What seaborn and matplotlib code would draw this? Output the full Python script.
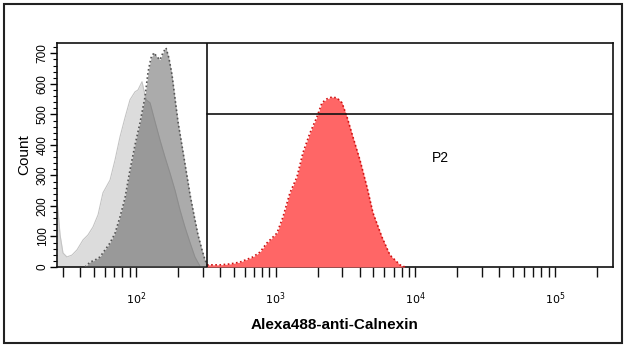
import numpy as np
import matplotlib
matplotlib.use("Agg")
import matplotlib.pyplot as plt
import seaborn as sns
from matplotlib.ticker import LogLocator, MultipleLocator, NullFormatter, FixedLocator
from matplotlib.patches import Rectangle

# control (light gray) histogram
ctrl_x = [27.2, 28.6, 30.0, 32.0, 34.8, 37.8, 41.8, 45.3, 49.2, 53.5, 58.0, 65.2, 70.8,
          76.8, 83.4, 90.6, 98.4, 103.3, 110.4, 118, 126, 137, 148.5, 161, 175, 190,
          206.5, 224, 244, 264, 287]
ctrl_y = [220, 105, 46, 33, 39, 56, 89, 105, 131, 171, 243, 285, 351,
          426, 489, 548, 574, 580, 607, 548, 538, 475, 416, 361, 308, 252,
          187, 131, 79, 33, 3]

# isotype (dark gray) histogram
iso_x = [43.2, 46.9, 50.9, 55.2, 60.0, 65.2, 70.8, 76.8, 83.4, 90.6, 98.4, 106.8, 116,
         122, 128, 134.5, 141, 148.5, 156, 164, 172, 181, 190, 200, 213, 228, 244,
         260, 278, 297, 312, 327]
iso_y = [0, 16, 23, 33, 56, 79, 111, 164, 226, 318, 400, 472, 557,
         639, 685, 702, 689, 679, 702, 718, 685, 630, 554, 475, 400, 318, 236,
         171, 105, 56, 23, 3]

# Alexa488-anti-Calnexin (red) histogram
cal_x = [322, 399, 471, 555, 688, 772, 866, 1021, 1128, 1265, 1420, 1567, 1759, 1976,
         2144, 2328, 2528, 2747, 2984, 3239, 3574, 4010, 4505, 4975, 5769, 6580, 7762, 8430]
cal_y = [7, 7, 10, 16, 33, 49, 79, 111, 164, 243, 295, 374, 439, 492,
         538, 551, 557, 554, 538, 492, 426, 351, 262, 177, 98, 39, 7, 0]

gate_x = 322
gate_y = 500

sns.set_style("ticks")
plt.rcParams['font.family'] = ['Liberation Sans', 'DejaVu Sans']
plt.rcParams['text.color'] = 'black'
plt.rcParams['axes.labelcolor'] = 'black'
plt.rcParams['xtick.color'] = 'black'
plt.rcParams['ytick.color'] = 'black'

fig = plt.figure(figsize=(6.28, 3.51), dpi=100)
ax = fig.add_axes([0.0908, 0.2393, 0.9761 - 0.0908, 0.8775 - 0.2393])

ax.fill_between(ctrl_x, ctrl_y, 0, color='#dcdcdc', lw=0, zorder=1)
sns.lineplot(x=ctrl_x, y=ctrl_y, ax=ax, color='#c4c4c4', lw=0.8, zorder=2)
ax.fill_between(iso_x, iso_y, 0, color='#585858', alpha=0.5, lw=0, zorder=3)
sns.lineplot(x=iso_x, y=iso_y, ax=ax, color='#555555', lw=1.2, ls=(0, (1, 1.5)), zorder=4)
ax.fill_between(cal_x, cal_y, 0, color='#ff6666', lw=0, zorder=3)
sns.lineplot(x=cal_x, y=cal_y, ax=ax, color='#d01010', lw=1.2, ls=(0, (1, 1.5)), zorder=4)

ax.set_xscale('log')
ax.set_xlim(27.2, 2.6e5)
ax.set_ylim(0, 734)

# gate lines
ax.axvline(gate_x, color='#111111', lw=1.2, zorder=5)
ax.plot([gate_x, 2.6e5], [gate_y, gate_y], color='#111111', lw=1.2, zorder=5)
ax.text(15000, 357, 'P2', fontsize=10, ha='center', va='center')

for s in ax.spines.values():
    s.set_color('#111111')
    s.set_linewidth(1.2)

ax.xaxis.set_major_locator(FixedLocator([1e2, 1e3, 1e4, 1e5]))
ax.set_xticklabels([r'$10^2$', r'$10^3$', r'$10^4$', r'$10^5$'], fontsize=8)
ax.xaxis.set_minor_locator(LogLocator(base=10, subs=np.arange(2, 10)))
ax.xaxis.set_minor_formatter(NullFormatter())
ax.tick_params(axis='x', which='both', direction='out', length=7, width=1, color='#111111', pad=10)

ax.yaxis.set_major_locator(MultipleLocator(100))
ax.yaxis.set_minor_locator(MultipleLocator(20))
ax.tick_params(axis='y', which='major', direction='out', length=5, width=1, labelsize=8.5, pad=1)
ax.tick_params(axis='y', which='minor', direction='out', length=3, width=0.8)
for lab in ax.get_yticklabels():
    lab.set_rotation(90)
    lab.set_va('center')

ax.set_xlabel('Alexa488-anti-Calnexin', fontsize=11, fontweight='bold', labelpad=8)
ax.set_ylabel('Count', fontsize=11, labelpad=4)

fig.patches.append(Rectangle((4 / 628, 1 - 343 / 351), 618 / 628, 339 / 351,
                             transform=fig.transFigure, fill=False, lw=1.5,
                             edgecolor='#222222', zorder=0))

fig.savefig('out.png', dpi=100)
